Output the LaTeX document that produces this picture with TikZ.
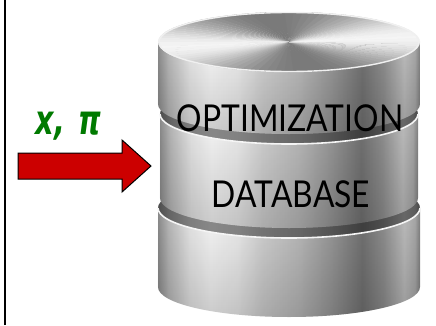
\documentclass[tikz,border=0pt]{standalone}
\usepackage{fontspec}
\setmainfont{Lato}
\newfontfamily\labelfont{DejaVu Sans}
\usetikzlibrary{fadings}

\definecolor{arrowred}{HTML}{CC0000}
\definecolor{labelgreen}{HTML}{007A00}
\definecolor{mA}{gray}{0.55}
\definecolor{mB}{gray}{0.72}
\definecolor{mC}{gray}{0.90}
\definecolor{mD}{gray}{0.97}
\definecolor{mE}{gray}{0.93}
\definecolor{mF}{gray}{0.82}
\definecolor{mG}{gray}{0.73}
\definecolor{mH}{gray}{0.60}
\definecolor{mI}{gray}{0.45}
\definecolor{mJ}{gray}{0.56}
\definecolor{mK}{gray}{0.74}
\definecolor{mL}{gray}{0.66}
\definecolor{mM}{gray}{0.50}

% brushed metal across the side of a disk
\pgfdeclarehorizontalshading{metalside}{100bp}{
  color(0bp)=(mA); color(25bp)=(mA); color(27bp)=(mB); color(31bp)=(mC);
  color(35bp)=(mD); color(40bp)=(mE); color(45bp)=(mF); color(52bp)=(mG);
  color(58bp)=(mH); color(64bp)=(mI); color(68bp)=(mJ); color(72bp)=(mK);
  color(74bp)=(mL); color(75bp)=(mM); color(100bp)=(mM)}

\tikzfading[name=darkbottom, top color=transparent!100, bottom color=transparent!0]

\tikzset{
  dbtext/.style={font=\fontsize{37}{37}\selectfont, text=black, inner sep=0pt},
  varlabel/.style={font=\labelfont\bfseries\itshape\fontsize{41}{41}\selectfont, text=labelgreen, inner sep=0pt},
  blockarrow/.style={fill=arrowred, draw=black, line width=1pt, line join=miter},
  rimlight/.style={draw=white!92!gray, line width=1.6pt},
}

% side of a disk: #1 centre x, #2 top centre y, #3 bottom centre y, #4 x radius, #5 y radius
\newcommand{\disksidepath}[5]{(#1-#4,#2) -- (#1-#4,#3)
  arc[start angle=180, end angle=360, x radius=#4pt, y radius=#5pt] -- (#1+#4,#2) -- cycle}

\newcommand{\diskside}[5]{%
  \shade[shading=metalside] \disksidepath{#1}{#2}{#3}{#4}{#5};
  \fill[black, fill opacity=0.18, path fading=darkbottom] \disksidepath{#1}{#2}{#3}{#4}{#5};
}

% a lower disk whose top shows as a shadowed groove
\newcommand{\lowerdisk}[5]{%
  \diskside{#1}{#2}{#3}{#4}{#5}
  \shade[shading=metalside] (#1,#2) ellipse[x radius=#4pt, y radius=#5pt];
  \fill[black, fill opacity=0.45] (#1,#2) ellipse[x radius=#4pt, y radius=#5pt];
  \draw[rimlight] (#1-#4,#2) arc[start angle=180, end angle=360, x radius=#4pt, y radius=#5pt];
}

\begin{document}
\begin{tikzpicture}[x=1pt, y=1pt]
  \useasboundingbox (0,0) rectangle (436,325);
  \fill[white] (0,0) rectangle (436,325);

  % frame line on the left
  \draw[line width=2pt] (5,0) -- (5,325);

  % database stack, bottom disk first
  \lowerdisk{289}{117}{38}{131}{30}
  \lowerdisk{289}{211}{127}{129}{30}
  \diskside{289}{283}{221}{131}{30}

  % top face with a conic brushed finish
  \begin{scope}
    \clip (289,283) ellipse[x radius=131pt, y radius=30pt];
    \begin{scope}[shift={(289,283)}, xscale=131, yscale=30]
      \foreach \a in {0,4,...,356} {
        \pgfmathsetmacro\lv{int(72+24*cos(2*(\a+2-10)))}
        \fill[white!\lv!black] (0,0) -- (\a:1.1) -- (\a+4.6:1.1) -- cycle;
      }
    \end{scope}
  \end{scope}
  \draw[draw=white!88!gray, line width=1.4pt] (289,283) ellipse[x radius=130pt, y radius=29.5pt];

  % labels on the disks
  \node[dbtext] (opt) at (290,207) {\scalebox{0.86}[1]{OPTIMIZATION}};
  \node[dbtext] (db) at (291,131) {\scalebox{0.86}[1]{DATABASE}};

  % input arrow and its label
  \coordinate (tail) at (18,159);
  \coordinate (tip) at (151,159);
  \draw[blockarrow] (tail) ++(0,13) -- (122,172) -- (122,185) -- (tip)
    -- (122,133) -- (122,146) -- ([yshift=-13pt]tail) -- cycle;
  \node[varlabel] (vars) at (68.5,199) {\scalebox{0.7}[1]{x,\hspace{0.45em}π}};
\end{tikzpicture}
\end{document}
